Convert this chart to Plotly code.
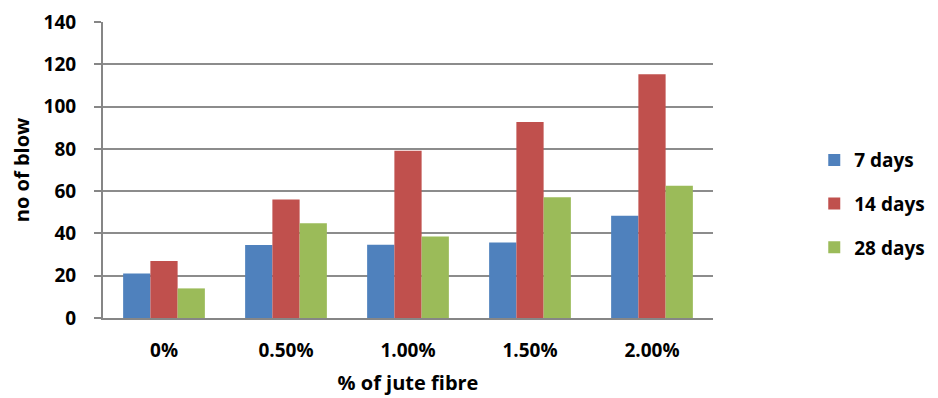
import plotly.graph_objects as go

categories = ["0%", "0.50%", "1.00%", "1.50%", "2.00%"]
series_names = ["7 days", "14 days", "28 days"]
days7 = [21, 34.5, 34.6, 35.7, 48.4]
days14 = [27, 56.1, 79.1, 92.7, 115.3]
days28 = [14, 44.8, 38.6, 57.1, 62.5]
colors = ["#4F81BD", "#C0504D", "#9BBB59"]

font_family = "Open Sans, Liberation Sans, sans-serif"

fig = go.Figure()
for i, (name, vals) in enumerate(zip(series_names, [days7, days14, days28])):
    fig.add_trace(go.Bar(
        x=categories, y=vals, name=name, legendgroup=name,
        marker=dict(color=colors[i], line=dict(width=0)),
    ))

fig.update_layout(
    width=930, height=390,
    margin=dict(l=95, r=225, t=14, b=80, autoexpand=False),
    paper_bgcolor="white", plot_bgcolor="white",
    barmode="group", bargap=0.33, bargroupgap=0,
    font=dict(family=font_family, size=19, color="black"),
    legend=dict(
        x=1.166, y=0.385, xanchor="left", yanchor="middle",
        font=dict(family=font_family, size=19, color="black", weight="bold"),
        traceorder="grouped", tracegroupgap=16,
        itemwidth=30,
    ),
    xaxis=dict(
        showline=True, linecolor="#868686", linewidth=2,
        ticks="", showgrid=False, automargin=False,
        ticklabelstandoff=14,
        tickfont=dict(family=font_family, size=19, weight="bold"),
        title=dict(text="% of jute fibre", standoff=14,
                   font=dict(family=font_family, size=20, weight="bold")),
    ),
    yaxis=dict(
        range=[0, 140], dtick=20, automargin=False,
        showline=True, linecolor="#868686", linewidth=2,
        ticks="outside", ticklen=7, tickcolor="#868686", tickwidth=2,
        showgrid=True, gridcolor="#8c8c8c", gridwidth=2,
        ticklabelstandoff=14,
        tickfont=dict(family=font_family, size=19, weight="bold"),
        title=dict(text="no of blow", standoff=16,
                   font=dict(family=font_family, size=20, weight="bold")),
        zeroline=False,
    ),
)

fig.write_html("out.html")
